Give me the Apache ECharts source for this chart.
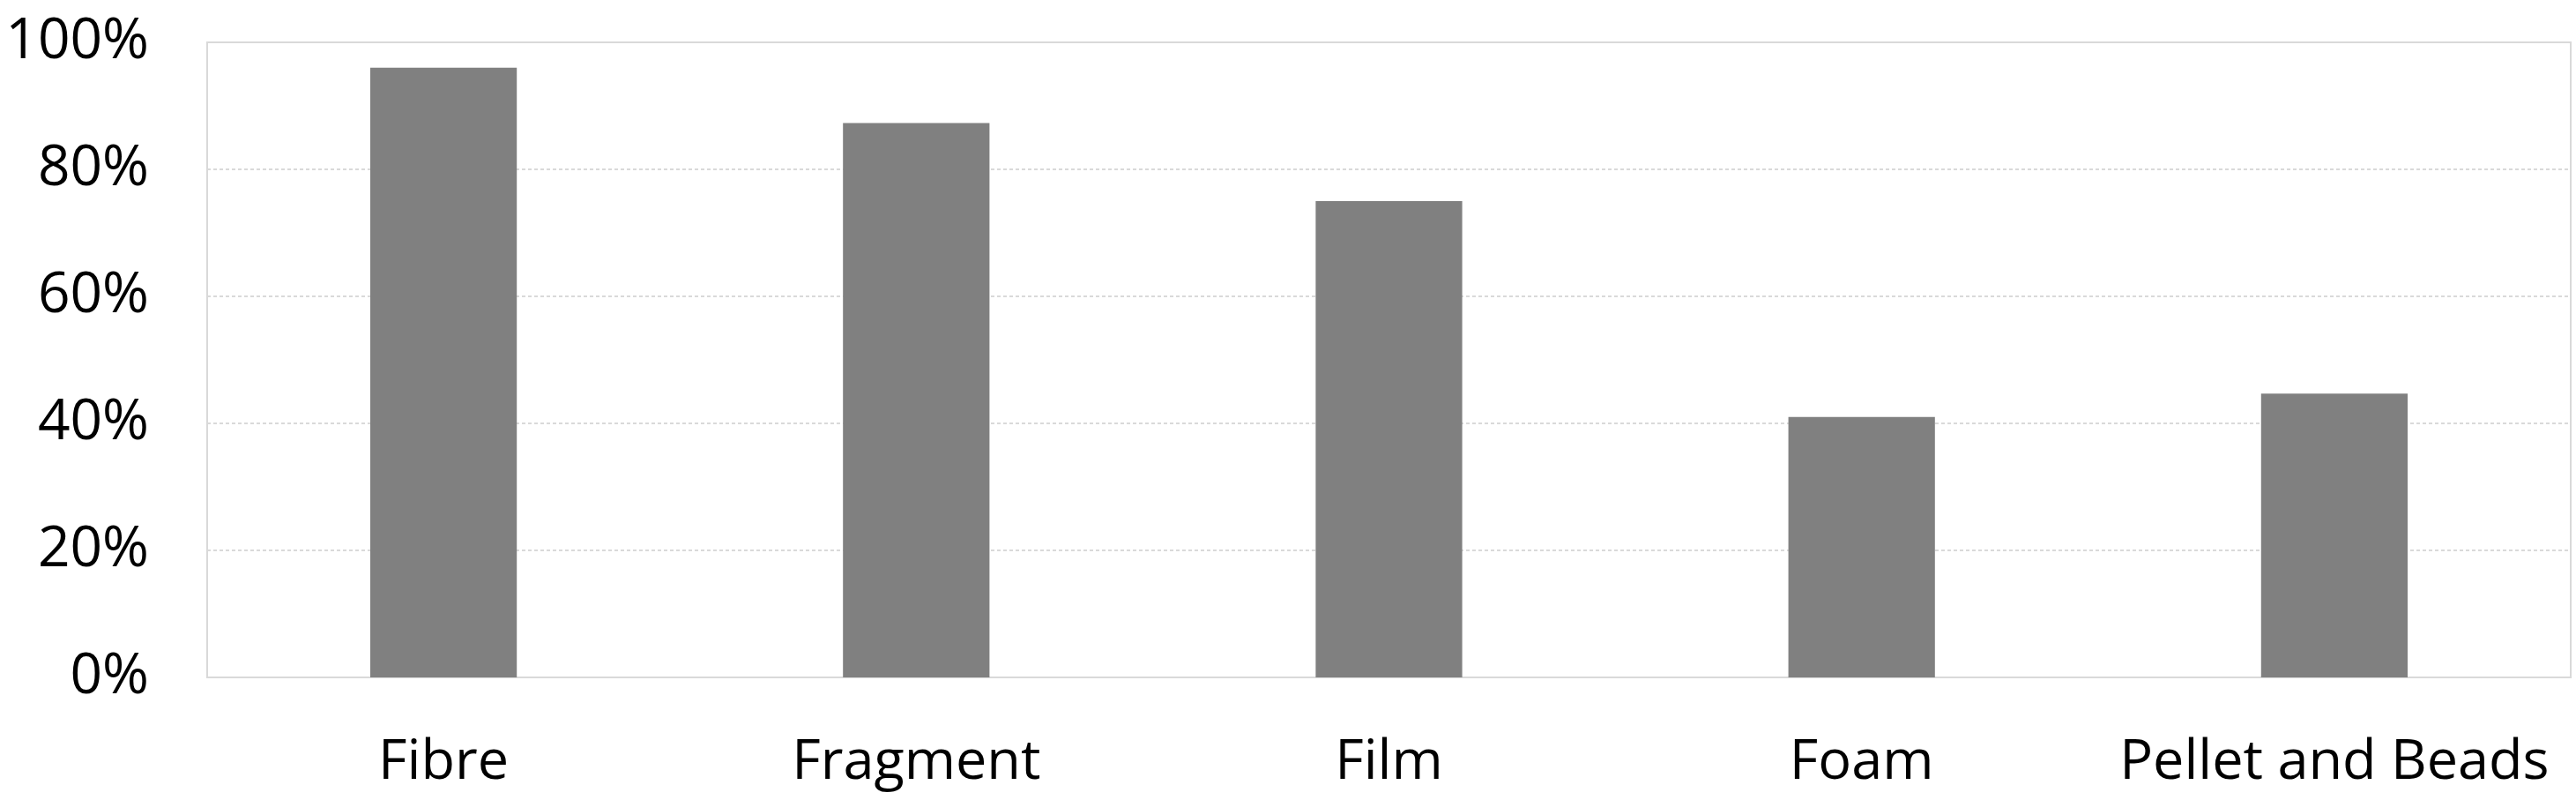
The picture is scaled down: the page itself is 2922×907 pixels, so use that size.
<!DOCTYPE html>
<html>
<head>
<meta charset="utf-8">
<script src="https://cdn.jsdelivr.net/npm/echarts@6/dist/echarts.min.js"></script>
<style>
html,body{margin:0;padding:0;background:#fff;}
#chart{width:2922px;height:907px;}
</style>
</head>
<body>
<div id="chart"></div>
<script>
const categories = ["Fibre", "Fragment", "Film", "Foam", "Pellet and Beads"];
const values = [96, 87.3, 75, 41, 44.7];
const yTicks = [0, 20, 40, 60, 80, 100];

const chart = echarts.init(document.getElementById('chart'));
chart.setOption({
  animation: false,
  backgroundColor: '#ffffff',
  grid: {
    left: 235, right: 6, top: 48, bottom: 139,
    show: true, borderColor: '#d9d9d9', borderWidth: 2, backgroundColor: 'transparent'
  },
  xAxis: {
    type: 'category',
    data: categories,
    axisLine: { show: false },
    axisTick: { show: false },
    axisLabel: { color: '#000', fontFamily: 'Open Sans', fontSize: 63, margin: 66, interval: 0, hideOverlap: false }
  },
  yAxis: {
    type: 'value',
    min: yTicks[0], max: yTicks[yTicks.length - 1], interval: yTicks[1] - yTicks[0],
    axisLine: { show: false },
    axisTick: { show: false },
    splitLine: { lineStyle: { color: '#d9d9d9', width: 2, type: [4, 3] } },
    axisLabel: { color: '#000', fontFamily: 'Open Sans', fontSize: 64, margin: 66, formatter: '{value}%' }
  },
  series: [{
    type: 'bar',
    data: values,
    barWidth: '31%',
    itemStyle: { color: '#808080' }
  }]
});
</script>
</body>
</html>
